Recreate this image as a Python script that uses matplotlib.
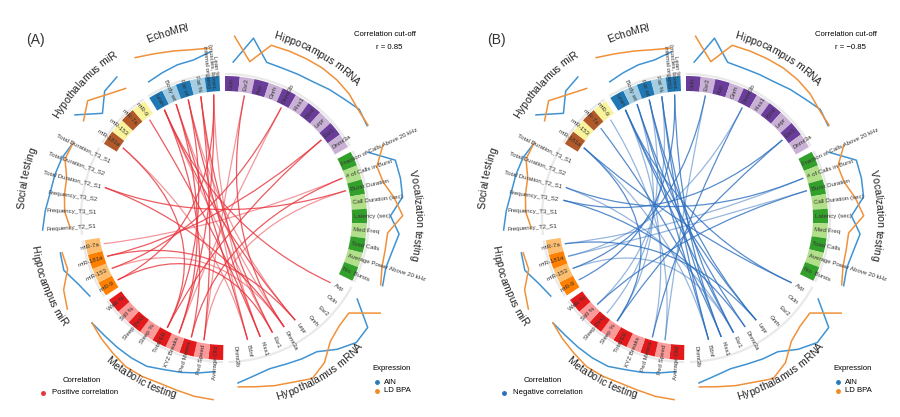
import numpy as np
import matplotlib
matplotlib.use("Agg")
import matplotlib.pyplot as plt
from matplotlib.patches import Wedge, Arc, PathPatch
from matplotlib.path import Path
from matplotlib.font_manager import FontProperties, findfont, get_font

plt.rcParams['font.family'] = ['Liberation Sans', 'DejaVu Sans']

# ---- sectors and their items (clockwise from 12 o'clock) ----
sectors = ["Hippocampus mRNA", "Vocalization testing", "Hypothalamus mRNA", "Metabolic testing",
           "Hippocampus miR", "Social testing", "Hypothalamus miR", "EchoMRI"]

hipp_mrna = ["Ocln", "Esr2", "Avp", "Gnrh", "Dnmt3b", "Kiss1", "Bdnf", "Lepr", "Esr1", "Dnmt3a"]
vocal = ["Fraction of Calls Above 20 kHz", "# of Calls in Burst", "Burst Duration",
         "Call Duration (sec)", "Latency (sec)", "Med Freq", "Total Calls",
         "Average Power Above 20 kHz", "No. Bursts"]
hypo_mrna = ["Avp", "Ocln", "Esr2", "Gnrh", "Lepr", "Dnmt3a", "Esr1", "Kiss1", "Bdnf", "Dnmt3b"]
metabolic = ["Average Old", "Ped Speed", "Ped Meters", "XYZ Breaks", "Total EE", "Sleep %",
             "Sleep (hrs)", "Still %", "Walk %"]
hipp_mir = ["miR-9", "miR-153", "miR-181a", "miR-7a"]
social = ["Frequency_T2_S1", "Frequency_T3_S1", "Frequency_T3_S2", "Total Duration_T2_S1",
          "Total Duration_T3_S2", "Total Duration_T3_S1"]
hypo_mir = ["miR-181a", "miR-153", "miR-7a", "miR-9"]
echo = ["Lean", "Body wt", "Fat wt", "Fat %", "Lean %"]
items = [hipp_mrna, vocal, hypo_mrna, metabolic, hipp_mir, social, hypo_mir, echo]
label_text = {"Lean %": "Lean %\n(muscles, bones,\ninternal organs)"}

# box colours (dark, light); None = no boxes
box_colors = [("#6a3d9a", "#cab2d6"), ("#33a02c", "#b2df8a"), None, ("#e31a1c", "#fb9a99"),
              ("#ff7f00", "#fdbf6f"), None, ("#b15928", "#f9f49c"), ("#1f78b4", "#a6cee3")]

# ---- scaled group means (0..1) for the outer expression tracks ----
ain_hipp_mrna = [0.17, 0.89, 0.31, 0.29, 0.31, 0.34, 0.43, 0.51, 0.63, 0.54]
bpa_hipp_mrna = [0.89, 0.23, 0.80, 0.80, 0.80, 0.80, 0.77, 0.71, 0.60, 0.57]
ain_vocal = [0.20, 0.83, 0.83, 0.80, 0.43, 0.69, 0.57, 0.51, 0.60]
bpa_vocal = [0.66, 0.29, 0.34, 0.57, 0.77, 0.37, 0.37, 0.40, 0.54]
ain_hypo_mrna = [0.14, 0.83, 0.86, 0.63, 0.34, 0.29, 0.23, 0.20, 0.29, 0.43]
bpa_hypo_mrna = [0.89, 0.17, 0.20, 0.34, 0.71, 0.91, 0.77, 0.69, 0.60, 0.54]
ain_metabolic = [0.11, 0.20, 0.29, 0.37, 0.49, 0.51, 0.51, 0.51, 0.54]
bpa_metabolic = [0.89, 0.86, 0.80, 0.77, 0.80, 0.80, 0.71, 0.63, 0.54]
ain_hipp_mir = [0.17, 0.31, 0.54, 0.51]
bpa_hipp_mir = [0.89, 0.74, 0.43, 0.46]
ain_social = [0.91, 0.83, 0.74, 0.71, 0.66, 0.54]
bpa_social = [0.14, 0.29, 0.34, 0.37, 0.57, 0.54]
ain_hypo_mir = [0.89, 0.31, 0.69, 0.77]
bpa_hypo_mir = [0.60, 0.85, 0.57, 0.37]
ain_echo = [0.17, 0.23, 0.29, 0.31, 0.46]
bpa_echo = [0.94, 0.80, 0.69, 0.60, 0.57]
ain = [ain_hipp_mrna, ain_vocal, ain_hypo_mrna, ain_metabolic, ain_hipp_mir, ain_social, ain_hypo_mir, ain_echo]
bpa = [bpa_hipp_mrna, bpa_vocal, bpa_hypo_mrna, bpa_metabolic, bpa_hipp_mir, bpa_social, bpa_hypo_mir, bpa_echo]

# ---- correlations above cut-off ----
pos_links = [
    ("Hypothalamus miR", "miR-181a", "Hypothalamus mRNA", "Bdnf"),
    ("Hypothalamus miR", "miR-181a", "Metabolic testing", "Total EE"),
    ("Hypothalamus miR", "miR-9", "Hypothalamus mRNA", "Kiss1"),
    ("EchoMRI", "Lean", "Hypothalamus mRNA", "Esr1"),
    ("EchoMRI", "Lean", "Hypothalamus mRNA", "Lepr"),
    ("EchoMRI", "Lean", "Metabolic testing", "Ped Meters"),
    ("EchoMRI", "Body wt", "Hypothalamus mRNA", "Dnmt3a"),
    ("EchoMRI", "Body wt", "Hypothalamus mRNA", "Bdnf"),
    ("EchoMRI", "Body wt", "Metabolic testing", "XYZ Breaks"),
    ("EchoMRI", "Fat wt", "Hypothalamus mRNA", "Lepr"),
    ("EchoMRI", "Fat wt", "Hypothalamus mRNA", "Kiss1"),
    ("EchoMRI", "Fat wt", "Metabolic testing", "Total EE"),
    ("EchoMRI", "Fat %", "Hypothalamus mRNA", "Bdnf"),
    ("EchoMRI", "Fat %", "Hypothalamus mRNA", "Esr1"),
    ("EchoMRI", "Fat %", "Metabolic testing", "Ped Speed"),
    ("EchoMRI", "Lean %", "Hypothalamus mRNA", "Kiss1"),
    ("EchoMRI", "Lean %", "Metabolic testing", "XYZ Breaks"),
    ("EchoMRI", "Lean %", "Hippocampus miR", "miR-9"),
    ("Hippocampus mRNA", "Esr2", "Metabolic testing", "Ped Speed"),
    ("Hippocampus mRNA", "Esr2", "Hypothalamus mRNA", "Dnmt3a"),
    ("Hippocampus mRNA", "Dnmt3b", "Hippocampus miR", "miR-153"),
    ("Hippocampus mRNA", "Dnmt3b", "Metabolic testing", "XYZ Breaks"),
    ("Hippocampus mRNA", "Esr1", "Hippocampus miR", "miR-181a"),
    ("Hippocampus mRNA", "Esr1", "Metabolic testing", "Total EE"),
    ("Vocalization testing", "# of Calls in Burst", "Hippocampus miR", "miR-7a"),
    ("Vocalization testing", "# of Calls in Burst", "Metabolic testing", "Ped Meters"),
    ("Vocalization testing", "Burst Duration", "Social testing", "Total Duration_T2_S1"),
    ("Vocalization testing", "Burst Duration", "Metabolic testing", "Ped Speed"),
    ("Hypothalamus mRNA", "Avp", "EchoMRI", "Lean"),
    ("Hypothalamus mRNA", "Esr1", "Hippocampus miR", "miR-9"),
    ("Hypothalamus mRNA", "Dnmt3a", "Hippocampus miR", "miR-153"),
    ("Hypothalamus mRNA", "Lepr", "Hippocampus miR", "miR-181a"),
    ("Social testing", "Total Duration_T2_S1", "Hypothalamus mRNA", "Dnmt3a"),
]
neg_links = [
    ("Hypothalamus miR", "miR-181a", "Hypothalamus mRNA", "Bdnf"),
    ("Hypothalamus miR", "miR-181a", "Metabolic testing", "Sleep %"),
    ("Hypothalamus miR", "miR-7a", "Hypothalamus mRNA", "Kiss1"),
    ("Hypothalamus miR", "miR-9", "Metabolic testing", "Ped Speed"),
    ("EchoMRI", "Lean", "Hypothalamus mRNA", "Esr1"),
    ("EchoMRI", "Lean", "Hypothalamus mRNA", "Lepr"),
    ("EchoMRI", "Lean", "Metabolic testing", "Ped Meters"),
    ("EchoMRI", "Body wt", "Hypothalamus mRNA", "Dnmt3a"),
    ("EchoMRI", "Body wt", "Hypothalamus mRNA", "Bdnf"),
    ("EchoMRI", "Body wt", "Metabolic testing", "Sleep %"),
    ("EchoMRI", "Fat wt", "Hypothalamus mRNA", "Lepr"),
    ("EchoMRI", "Fat wt", "Hypothalamus mRNA", "Kiss1"),
    ("EchoMRI", "Fat wt", "Metabolic testing", "Sleep (hrs)"),
    ("EchoMRI", "Fat %", "Hypothalamus mRNA", "Bdnf"),
    ("EchoMRI", "Fat %", "Hypothalamus mRNA", "Esr1"),
    ("EchoMRI", "Fat %", "Metabolic testing", "Still %"),
    ("EchoMRI", "Lean %", "Hypothalamus mRNA", "Kiss1"),
    ("EchoMRI", "Lean %", "Hippocampus miR", "miR-9"),
    ("Hippocampus mRNA", "Esr2", "Metabolic testing", "Ped Speed"),
    ("Hippocampus mRNA", "Esr2", "Hippocampus miR", "miR-153"),
    ("Hippocampus mRNA", "Dnmt3b", "Metabolic testing", "Ped Meters"),
    ("Hippocampus mRNA", "Dnmt3b", "Hippocampus miR", "miR-181a"),
    ("Hippocampus mRNA", "Esr1", "Social testing", "Frequency_T3_S2"),
    ("Hippocampus mRNA", "Esr1", "Metabolic testing", "Sleep %"),
    ("Vocalization testing", "# of Calls in Burst", "Hippocampus miR", "miR-7a"),
    ("Vocalization testing", "# of Calls in Burst", "Social testing", "Total Duration_T2_S1"),
    ("Vocalization testing", "Burst Duration", "Metabolic testing", "Still %"),
    ("Vocalization testing", "Burst Duration", "Hippocampus miR", "miR-181a"),
    ("Hypothalamus mRNA", "Avp", "EchoMRI", "Lean"),
    ("Hypothalamus mRNA", "Avp", "Hypothalamus miR", "miR-181a"),
    ("Hypothalamus mRNA", "Esr1", "Hippocampus miR", "miR-153"),
    ("Hypothalamus mRNA", "Dnmt3a", "Social testing", "Frequency_T3_S2"),
    ("Hypothalamus mRNA", "Lepr", "Hippocampus miR", "miR-7a"),
    ("Social testing", "Total Duration_T2_S1", "Hypothalamus mRNA", "Esr1"),
]

# ---- geometry (pixels) ----
STEP, GAP = 6.0, 2.25
R_IN, R_OUT, R_TRACK, R_LINK = 127, 142, 144, 124
R_LO, R_HI = 150, 186
title_r = [189, 193, 186, 184, 193, 204, 197, 194]
TITLE_FS = 7.6
AIN_C, BPA_C = "#3f93d2", "#f0913a"

# angles of each item
theta = {}
spans = []
t = 0.0
for name, its in zip(sectors, items):
    start = t
    for i, it in enumerate(its):
        theta[(name, it)] = t + STEP * (i + 0.5)
    t += STEP * len(its)
    spans.append((start, t))
    t += GAP


def xy(cx, cy, r, th):
    a = np.radians(th)
    return cx + r * np.sin(a), cy + r * np.cos(a)


title_font = get_font(findfont(FontProperties(family='Liberation Sans')))
title_font.set_size(TITLE_FS, 100)


def char_w(ch):
    # advance width in pixels
    return title_font.load_char(ord(ch)).linearHoriAdvance / 65536


def curved(ax, cx, cy, text, r, th_mid):
    widths = [char_w(c) for c in text]
    total = sum(widths)
    upper = not (90 < th_mid % 360 < 270)
    pos = 0.0
    for ch, w in zip(text, widths):
        s = pos + w / 2 - total / 2
        pos += w
        d = np.degrees(s / r)
        th = th_mid + d if upper else th_mid - d
        x, y = xy(cx, cy, r, th)
        rot = -th if upper else 180 - th
        ax.text(x, y, ch, rotation=rot, rotation_mode='anchor', ha='center', va='center',
                fontsize=TITLE_FS, color='#222222')


def draw_panel(ax, cx, cy, links, link_color, tag, cutoff, corr_name, corr_color):
    for k, (name, its) in enumerate(zip(sectors, items)):
        s0, s1 = spans[k]
        ax.add_patch(Arc((cx, cy), 2 * R_TRACK, 2 * R_TRACK, theta1=90 - s1, theta2=90 - s0,
                         color='#e9e9e9', lw=1.6, zorder=1))
        for i, it in enumerate(its):
            th = theta[(name, it)]
            if box_colors[k] is not None:
                c = box_colors[k][i % 2]
                ax.add_patch(Wedge((cx, cy), R_OUT, 90 - th - STEP / 2, 90 - th + STEP / 2,
                                   width=R_OUT - R_IN, fc=c, ec='none', zorder=2))
            x, y = xy(cx, cy, R_IN + 1.5, th)
            if th < 180:
                rot, ha = 90 - th, 'left'
            else:
                rot, ha = 270 - th, 'right'
            ax.text(x, y, label_text.get(it, it), rotation=rot, rotation_mode='anchor', ha=ha,
                    va='center', fontsize=4.4, color='#333333', multialignment='center',
                    linespacing=0.95, zorder=4)
        # expression tracks
        ths = [theta[(name, it)] for it in its]
        for vals, col in ((ain[k], AIN_C), (bpa[k], BPA_C)):
            pts = [xy(cx, cy, R_LO + v * (R_HI - R_LO), th) for v, th in zip(vals, ths)]
            ax.plot([p[0] for p in pts], [p[1] for p in pts], color=col, lw=1.1, zorder=3)
        curved(ax, cx, cy, name, title_r[k], (s0 + s1) / 2)

    for j, (a_sec, a_it, b_sec, b_it) in enumerate(links):
        x1, y1 = xy(cx, cy, R_LINK, theta[(a_sec, a_it)])
        x2, y2 = xy(cx, cy, R_LINK, theta[(b_sec, b_it)])
        ctrl = (cx - 8, cy - 12)
        p = Path([(x1, y1), ctrl, (x2, y2)], [Path.MOVETO, Path.CURVE3, Path.CURVE3])
        ax.add_patch(PathPatch(p, fc='none', ec=link_color, lw=0.9,
                               alpha=0.8 if j % 3 else 0.5, zorder=2))

    ax.text(cx - 190, 377, tag, fontsize=10, ha='center', va='center', color='#333333')
    ax.text(cx + 160, 383, "Correlation cut-off", fontsize=5.6, ha='center', va='center')
    ax.text(cx + 164, 370, cutoff, fontsize=5.6, ha='center', va='center')
    ax.text(cx + 147, 49, "Expression", fontsize=5.6, ha='left', va='center')
    ax.plot([cx + 152], [35], 'o', ms=2.5, color="#2b7bba")
    ax.text(cx + 159, 35, "AIN", fontsize=5.6, ha='left', va='center')
    ax.plot([cx + 152], [26], 'o', ms=2.5, color="#f08a24")
    ax.text(cx + 159, 26, "LD BPA", fontsize=5.6, ha='left', va='center')
    ax.text(cx - 143, 37, "Correlation", fontsize=5.6, ha='center', va='center')
    ax.plot([cx - 182], [24], 'o', ms=2.5, color=corr_color)
    ax.text(cx - 173, 24, corr_name, fontsize=5.6, ha='left', va='center')


fig = plt.figure(figsize=(9, 4.17), dpi=100)
ax = fig.add_axes([0, 0, 1, 1])
ax.set_xlim(0, 900)
ax.set_ylim(0, 417)
ax.axis('off')

draw_panel(ax, 225, 199, pos_links, "#e8323a", "(A)", "r = 0.85", "Positive correlation", "#e8323a")
draw_panel(ax, 686, 199, neg_links, "#2d6fbf", "(B)", "r = \u22120.85", "Negative correlation", "#2d6fbf")

fig.savefig("out.png", dpi=100)
